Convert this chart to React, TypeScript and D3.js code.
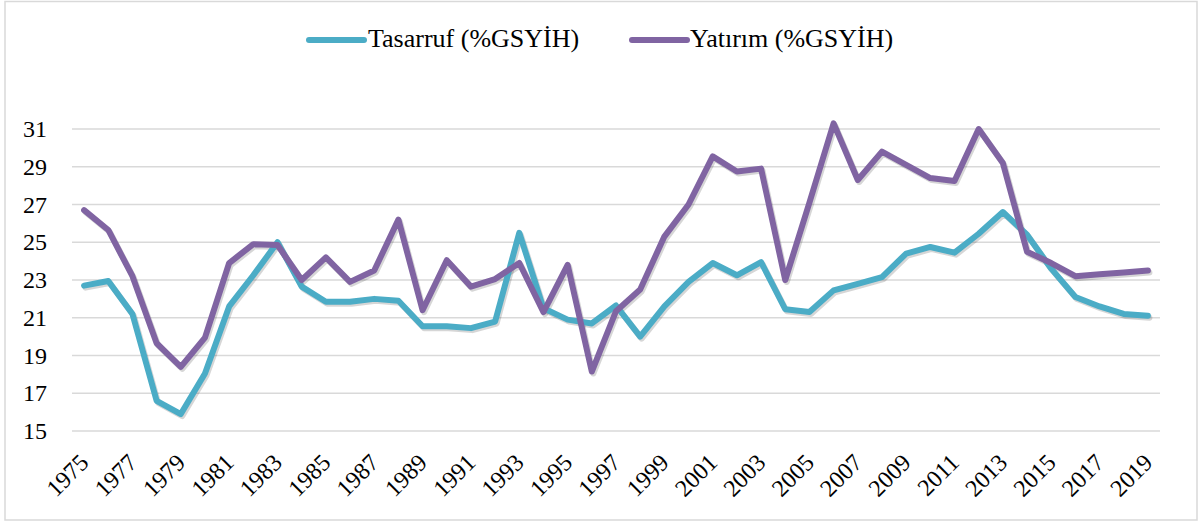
import React, { useEffect, useRef } from "react";
import * as d3 from "d3";

const years: number[] = d3.range(1975, 2020);
const tasarruf: number[] = [
  22.7, 22.95, 21.2, 16.6, 15.9, 18.05, 21.6, 23.25, 25.0, 22.65,
  21.85, 21.85, 22.0, 21.9, 20.55, 20.55, 20.45, 20.8, 25.5, 21.5,
  20.9, 20.7, 21.65, 20.0, 21.6, 22.9, 23.9, 23.25, 23.95, 21.45,
  21.3, 22.45, 22.8, 23.15, 24.4, 24.75, 24.45, 25.45, 26.6, 25.4,
  23.6, 22.1, 21.6, 21.2, 21.1,
];
const yatirim: number[] = [
  26.7, 25.65, 23.2, 19.65, 18.4, 19.95, 23.9, 24.9, 24.85, 23.0,
  24.2, 22.9, 23.5, 26.2, 21.4, 24.05, 22.65, 23.05, 23.9, 21.3,
  23.8, 18.15, 21.35, 22.5, 25.3, 27.0, 29.55, 28.75, 28.9, 23.0,
  27.1, 31.3, 28.3, 29.8, 29.1, 28.4, 28.25, 31.0, 29.2, 24.5,
  23.9, 23.2, 23.3, 23.4, 23.5,
];
const yTicks: number[] = [15, 17, 19, 21, 23, 25, 27, 29, 31];
const seriesNames: string[] = ["Tasarruf (%GSYİH)", "Yatırım (%GSYİH)"];
const seriesColors: string[] = ["#4BACC6", "#8064A2"];

const FONT = '"Liberation Serif", "Times New Roman", Times';

export default function App() {
  const ref = useRef<SVGSVGElement | null>(null);
  const W = 1200;
  const H = 525;
  const left = 72;
  const right = 1160;

  useEffect(() => {
    if (!ref.current) return;
    const svg = d3.select(ref.current);
    svg.selectAll("*").remove();
    const x = d3.scaleBand<number>().domain(years).range([left, right]);
    const y = d3.scaleLinear().domain([15, 31]).range([431, 129]);
    const cx = (yr: number) => (x(yr) as number) + x.bandwidth() / 2;
    const line = d3
      .line<number>()
      .x((_, i) => cx(years[i]))
      .y((d) => y(d));

    svg
      .append("rect")
      .attr("x", 5)
      .attr("y", 1.5)
      .attr("width", 1192)
      .attr("height", 518.5)
      .attr("fill", "#fff")
      .attr("stroke", "#D9D9D9")
      .attr("stroke-width", 1.5);

    const g = svg.append("g");
    yTicks.forEach((t) => {
      g.append("line")
        .attr("x1", left)
        .attr("x2", right)
        .attr("y1", y(t))
        .attr("y2", y(t))
        .attr("stroke", "#D9D9D9")
        .attr("stroke-width", 1.5);
      g.append("text")
        .attr("x", 47)
        .attr("y", y(t) + 8)
        .attr("text-anchor", "end")
        .attr("font-size", 24)
        .attr("fill", "#000")
        .text(String(t));
    });

    years
      .filter((_, i) => i % 2 === 0)
      .forEach((yr) => {
        g.append("text")
          .attr("transform", `translate(${cx(yr) + 6},464) rotate(-45)`)
          .attr("text-anchor", "end")
          .attr("font-size", 24)
          .attr("fill", "#000")
          .text(String(yr));
      });

    const series = [tasarruf, yatirim];
    series.forEach((s) => {
      g.append("path")
        .attr("d", line(s) || "")
        .attr("fill", "none")
        .attr("stroke", "rgba(0,0,0,0.16)")
        .attr("stroke-width", 6)
        .attr("stroke-linejoin", "round")
        .attr("stroke-linecap", "round")
        .attr("transform", "translate(1.5,2)");
    });
    series.forEach((s, i) => {
      g.append("path")
        .attr("d", line(s) || "")
        .attr("fill", "none")
        .attr("stroke", seriesColors[i])
        .attr("stroke-width", 6)
        .attr("stroke-linejoin", "round")
        .attr("stroke-linecap", "round");
    });

    const legendItems = [
      { lx: 309, tx: 368 },
      { lx: 632, tx: 690 },
    ];
    legendItems.forEach((it, i) => {
      g.append("line")
        .attr("x1", it.lx)
        .attr("x2", it.lx + 55)
        .attr("y1", 40)
        .attr("y2", 40)
        .attr("stroke", seriesColors[i])
        .attr("stroke-width", 6)
        .attr("stroke-linecap", "round");
      g.append("text")
        .attr("x", it.tx)
        .attr("y", 47)
        .attr("font-size", 26)
        .attr("fill", "#000")
        .text(seriesNames[i]);
    });

    svg.selectAll<SVGTextElement, unknown>("text").each(function () {
      this.style.setProperty("font-family", FONT, "important");
    });
  }, []);

  return (
    <svg
      ref={ref}
      width={W}
      height={H}
      style={{ position: "absolute", left: 0, top: 0 }}
    />
  );
}
